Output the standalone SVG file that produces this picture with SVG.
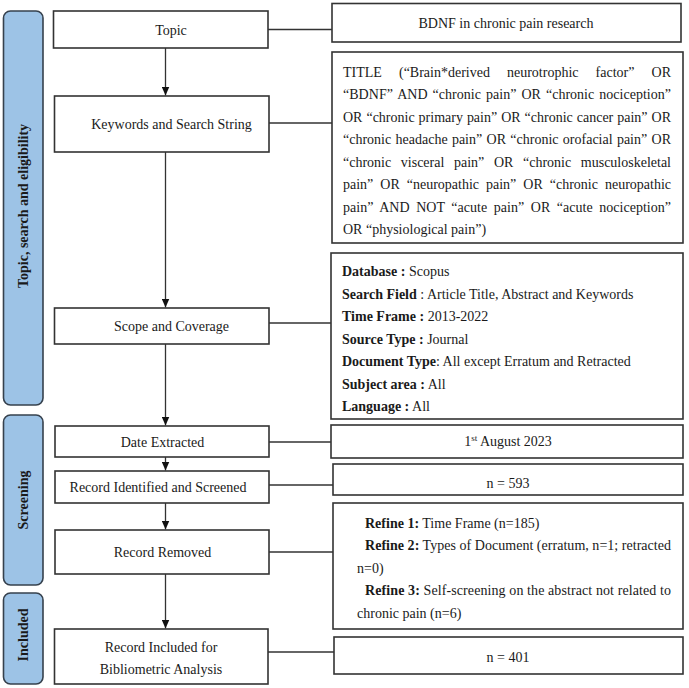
<svg xmlns="http://www.w3.org/2000/svg" width="689" height="688" viewBox="0 0 689 688">
<style>
text{font-family:"Liberation Serif","Times New Roman",serif;font-size:14px;fill:#1a1a1a}
.c{text-anchor:middle}
.b{font-weight:bold}
.box{fill:#fff;stroke:#333;stroke-width:1.6}
.bar{fill:#9dc3e6;stroke:#36414d;stroke-width:1.6}
.ln{stroke:#333;stroke-width:1.3;fill:none}
.vt{font-weight:bold;text-anchor:middle}
</style>
<defs>
<marker id="ah" markerWidth="9" markerHeight="8" refX="9" refY="4" orient="auto" markerUnits="userSpaceOnUse" viewBox="0 0 9 8">
<path d="M0,0 L9,4 L0,8 Z" fill="#111"/>
</marker>
</defs>

<g id="phases">
<g id="phase-topic">
<rect class="bar" x="3.5" y="11" width="39.5" height="394" rx="7"/>
<text class="vt" transform="translate(28,206) rotate(-90)">Topic, search and eligibility</text>
</g>
<g id="phase-screening">
<rect class="bar" x="3.5" y="415" width="39.5" height="170" rx="7"/>
<text class="vt" transform="translate(28,500) rotate(-90)">Screening</text>
</g>
<g id="phase-included">
<rect class="bar" x="3.5" y="593" width="39.5" height="91" rx="7"/>
<text class="vt" transform="translate(28,635) rotate(-90)">Included</text>
</g>
</g>

<g id="connectors">
<line class="ln" x1="165.5" y1="48" x2="165.5" y2="95.5" marker-end="url(#ah)"/>
<line class="ln" x1="165.5" y1="152" x2="165.5" y2="307.5" marker-end="url(#ah)"/>
<line class="ln" x1="165.5" y1="344" x2="165.5" y2="425.5" marker-end="url(#ah)"/>
<line class="ln" x1="165.5" y1="457" x2="165.5" y2="470.5" marker-end="url(#ah)"/>
<line class="ln" x1="165.5" y1="503" x2="165.5" y2="529.5" marker-end="url(#ah)"/>
<line class="ln" x1="165.5" y1="574" x2="165.5" y2="628.5" marker-end="url(#ah)"/>
<line class="ln" x1="268" y1="29.5" x2="332" y2="29.5"/>
<line class="ln" x1="269" y1="123" x2="332" y2="123"/>
<line class="ln" x1="269" y1="323" x2="331" y2="323"/>
<line class="ln" x1="269" y1="442" x2="331" y2="442"/>
<line class="ln" x1="269" y1="485" x2="333" y2="485"/>
<line class="ln" x1="269" y1="552" x2="333" y2="552"/>
<line class="ln" x1="268" y1="652" x2="334" y2="652"/>
</g>

<g id="topic">
<rect class="box" x="53.5" y="11" width="214.5" height="37"/>
<text class="c" x="171" y="35">Topic</text>
</g>
<g id="keywords">
<rect class="box" x="54.5" y="96" width="214.5" height="56"/>
<text class="c" x="171.5" y="129">Keywords and Search String</text>
</g>
<g id="scope">
<rect class="box" x="54.5" y="308" width="214.5" height="36"/>
<text class="c" x="171.5" y="331">Scope and Coverage</text>
</g>
<g id="date">
<rect class="box" x="55" y="426" width="214" height="31"/>
<text class="c" x="162.5" y="446.5">Date Extracted</text>
</g>
<g id="identified">
<rect class="box" x="55" y="471" width="214" height="32"/>
<text class="c" x="158" y="492">Record Identified and Screened</text>
</g>
<g id="removed">
<rect class="box" x="55" y="530" width="214" height="44"/>
<text class="c" x="162.5" y="557">Record Removed</text>
</g>
<g id="included">
<rect class="box" x="54.5" y="629" width="213.5" height="55"/>
<text class="c" x="161" y="651.5">Record Included for</text>
<text class="c" x="161" y="674">Bibliometric Analysis</text>
</g>

<g id="topic-detail">
<rect class="box" x="332" y="3.5" width="349" height="38.5"/>
<text class="c" x="506" y="27.5">BDNF in chronic pain research</text>
</g>
<g id="search-string">
<rect class="box" x="332" y="52" width="351" height="191"/>
<text x="343" y="76.5" word-spacing="13.6" textLength="328" lengthAdjust="spacing">TITLE (“Brain*derived neurotrophic factor” OR</text>
<text x="343" y="99" word-spacing="1.5" textLength="328" lengthAdjust="spacing">“BDNF” AND “chronic pain” OR “chronic nociception”</text>
<text x="343" y="121.5" word-spacing="0.5" textLength="328" lengthAdjust="spacing">OR “chronic primary pain” OR “chronic cancer pain” OR</text>
<text x="343" y="144" word-spacing="0.8" textLength="328" lengthAdjust="spacing">“chronic headache pain” OR “chronic orofacial pain” OR</text>
<text x="343" y="166.5" word-spacing="6.1" textLength="328" lengthAdjust="spacing">“chronic visceral pain” OR “chronic musculoskeletal</text>
<text x="343" y="189" word-spacing="3.5" textLength="328" lengthAdjust="spacing">pain” OR “neuropathic pain” OR “chronic neuropathic</text>
<text x="343" y="211.5" word-spacing="3" textLength="328" lengthAdjust="spacing">pain” AND NOT “acute pain” OR “acute nociception”</text>
<text x="343" y="234">OR “physiological pain”)</text>
</g>
<g id="scope-detail">
<rect class="box" x="331" y="253" width="352" height="166"/>
<text x="342" y="276"><tspan class="b">Database :</tspan> Scopus</text>
<text x="342" y="298.5"><tspan class="b">Search Field</tspan> : Article Title, Abstract and Keywords</text>
<text x="342" y="321"><tspan class="b">Time Frame :</tspan> 2013-2022</text>
<text x="342" y="343.5"><tspan class="b">Source Type :</tspan> Journal</text>
<text x="342" y="366"><tspan class="b">Document Type</tspan>: All except Erratum and Retracted</text>
<text x="342" y="388.5"><tspan class="b">Subject area :</tspan> All</text>
<text x="342" y="411"><tspan class="b">Language :</tspan> All</text>
</g>
<g id="date-detail">
<rect class="box" x="331" y="425" width="352" height="33"/>
<text class="c" x="508" y="445.5">1<tspan font-size="9" dy="-5">st</tspan><tspan dy="5"> August 2023</tspan></text>
</g>
<g id="identified-detail">
<rect class="box" x="333" y="464" width="350" height="31"/>
<text class="c" x="508" y="488">n = 593</text>
</g>
<g id="removed-detail">
<rect class="box" x="333" y="503" width="350" height="126"/>
<text x="365" y="527.5"><tspan class="b">Refine 1:</tspan> Time Frame (n=185)</text>
<text x="365" y="550" textLength="306" lengthAdjust="spacing"><tspan class="b">Refine 2:</tspan> Types of Document (erratum, n=1; retracted</text>
<text x="357" y="572.5">n=0)</text>
<text x="365" y="595" textLength="306" lengthAdjust="spacing"><tspan class="b">Refine 3:</tspan> Self-screening on the abstract not related to</text>
<text x="357" y="617.5">chronic pain (n=6)</text>
</g>
<g id="included-detail">
<rect class="box" x="334" y="637" width="349" height="37"/>
<text class="c" x="508" y="661.5">n = 401</text>
</g>
</svg>
